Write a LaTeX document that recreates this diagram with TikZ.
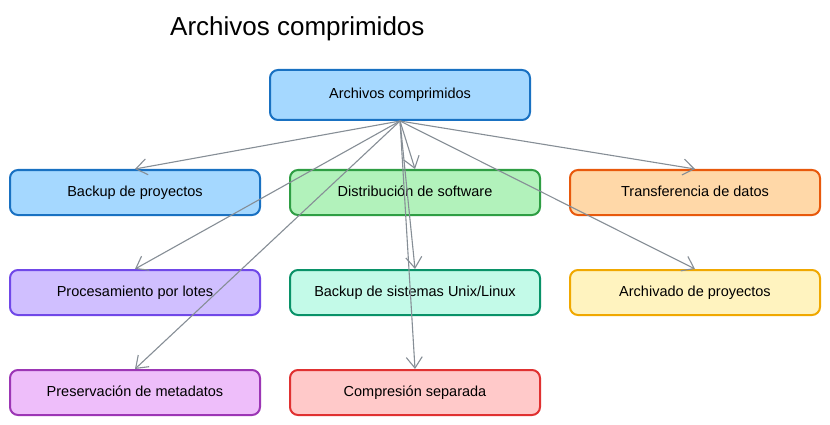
\documentclass[tikz,border=0pt]{standalone}
\usepackage{fontspec}
\setmainfont{Liberation Sans}
\usetikzlibrary{arrows.meta}
\definecolor{bfill}{HTML}{A5D8FF}\definecolor{bdraw}{HTML}{1971C2}
\definecolor{gfill}{HTML}{B2F2BB}\definecolor{gdraw}{HTML}{2F9E44}
\definecolor{ofill}{HTML}{FFD8A8}\definecolor{odraw}{HTML}{E8590C}
\definecolor{pfill}{HTML}{D0BFFF}\definecolor{pdraw}{HTML}{7048E8}
\definecolor{tfill}{HTML}{C3FAE8}\definecolor{tdraw}{HTML}{099268}
\definecolor{yfill}{HTML}{FFF3BF}\definecolor{ydraw}{HTML}{F0A800}
\definecolor{mfill}{HTML}{EEBEFA}\definecolor{mdraw}{HTML}{9C36B5}
\definecolor{rfill}{HTML}{FFC9C9}\definecolor{rdraw}{HTML}{E03131}
\definecolor{arrcol}{HTML}{868E96}
\tikzset{
  box/.style={draw, line width=2pt, rounded corners=8pt, minimum width=250pt, minimum height=45pt, inner sep=0pt, text height=0.9em, text depth=0.2em, font=\fontsize{14.5}{17}\selectfont, text=black},
  arr/.style={draw=arrcol, line width=1.1pt, -{Straight Barb[length=11pt,width=16pt]}}
}
\begin{document}
\begin{tikzpicture}[x=1pt,y=-1pt]
\useasboundingbox[fill=white] (0,0) rectangle (830,425);
\node[anchor=west, inner sep=0pt, font=\fontsize{26}{30}\selectfont] (title) at (170,29) {Archivos comprimidos};
\node[box, fill=bfill, draw=bdraw, minimum width=260pt, minimum height=50pt] (root) at (400,95) {Archivos comprimidos};
\node[box, fill=bfill, draw=bdraw] (n1) at (135,192.5) {Backup de proyectos};
\node[box, fill=gfill, draw=gdraw] (n2) at (415,192.5) {Distribución de software};
\node[box, fill=ofill, draw=odraw] (n3) at (695,192.5) {Transferencia de datos};
\node[box, fill=pfill, draw=pdraw] (n4) at (135,292.5) {Procesamiento por lotes};
\node[box, fill=tfill, draw=tdraw] (n5) at (415,292.5) {Backup de sistemas Unix/Linux};
\node[box, fill=yfill, draw=ydraw] (n6) at (695,292.5) {Archivado de proyectos};
\node[box, fill=mfill, draw=mdraw] (n7) at (135,392.5) {Preservación de metadatos};
\node[box, fill=rfill, draw=rdraw] (n8) at (415,392.5) {Compresión separada};
\foreach \t in {n1,n2,n3,n4,n5,n6,n7,n8}{
  \draw[arr] (root.south) -- (\t.north);
}
\end{tikzpicture}
\end{document}
